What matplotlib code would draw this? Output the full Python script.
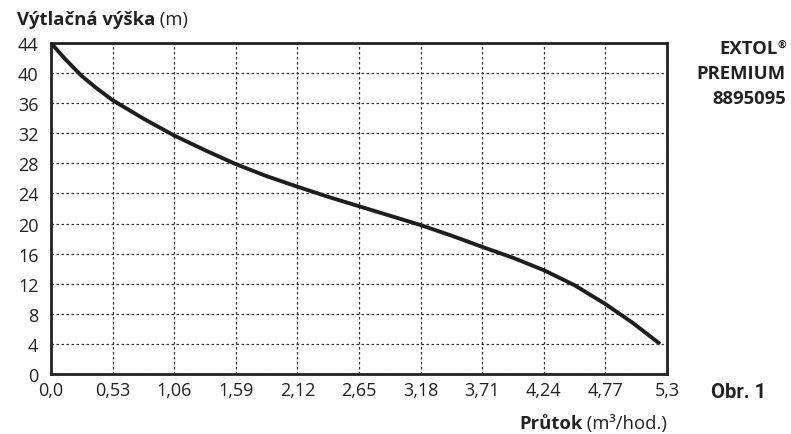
import matplotlib
matplotlib.use("Agg")
import matplotlib.pyplot as plt

flow = [0.0, 0.12, 0.265, 0.4, 0.53, 0.795, 1.06, 1.325, 1.59, 1.855, 2.12, 2.385, 2.65,
        2.915, 3.18, 3.445, 3.71, 3.975, 4.24, 4.505, 4.77, 5.005, 5.24]
head = [44.0, 41.9, 39.6, 37.9, 36.4, 33.95, 31.7, 29.75, 27.9, 26.3, 24.9, 23.55, 22.3,
        21.05, 19.8, 18.4, 16.9, 15.45, 13.8, 11.8, 9.3, 6.8, 4.0]

xticks = [0.0, 0.53, 1.06, 1.59, 2.12, 2.65, 3.18, 3.71, 4.24, 4.77, 5.3]
xlabels = ["0,0", "0,53", "1,06", "1,59", "2,12", "2,65", "3,18", "3,71", "4,24", "4,77", "5,3"]
yticks = [0, 4, 8, 12, 16, 20, 24, 28, 32, 36, 40, 44]

FONT = "Open Sans"
plt.rcParams["font.family"] = [FONT, "DejaVu Sans"]
TXT = "#222222"

fig = plt.figure(figsize=(7.91, 4.35), dpi=100)
ax = fig.add_axes([51/791, 1-375/435, (667-51)/791, (375-44)/435])

ax.plot(flow, head, color="#1e1e1e", lw=2.8, solid_capstyle="butt",
        solid_joinstyle="round", zorder=3)
ax.set_xlim(0, 5.3)
ax.set_ylim(0, 44)
ax.set_xticks(xticks)
ax.set_xticklabels(xlabels)
ax.set_yticks(yticks)
ax.tick_params(length=0, labelsize=13, colors=TXT, pad=5)
ax.tick_params(axis="y", pad=9)
ax.grid(True, color="#333333", ls=(0, (2, 2)), lw=0.9)
for s in ax.spines.values():
    s.set_linewidth(2)
    s.set_color(TXT)

t1 = fig.text(17/791, 1-20/435, "Výtlačná výška", fontsize=13.3, fontweight="bold",
              color=TXT, ha="left", va="center")
ax.annotate(" (m)", xy=(1, 0), xycoords=t1, va="bottom", ha="left",
            fontsize=13.3, color=TXT)

t2 = fig.text(519/791, 1-424/435, "Průtok", fontsize=13.3, fontweight="bold",
              color=TXT, ha="left", va="center")
ax.annotate(" (m³/hod.)", xy=(1, 0), xycoords=t2, va="bottom", ha="left",
            fontsize=13.3, color=TXT)

t3 = fig.text(778/791, 1-49/435, "EXTOL", fontsize=13.3, fontweight="bold",
              color=TXT, ha="right", va="center")
ax.annotate("®", xy=(1, 1), xycoords=t3, va="top", ha="left",
            fontsize=7.5, fontweight="bold", color=TXT)
fig.text(786/791, 1-74/435, "PREMIUM", fontsize=13.3, fontweight="bold",
         color=TXT, ha="right", va="center")
fig.text(786/791, 1-99/435, "8895095", fontsize=13.3, fontweight="bold",
         color=TXT, ha="right", va="center")
fig.text(766/791, 1-393/435, "Obr. 1", fontsize=14.5, fontweight="bold",
         family=["Roboto", "DejaVu Sans"],
         color=TXT, ha="right", va="center")

fig.savefig("out.png", dpi=100)
